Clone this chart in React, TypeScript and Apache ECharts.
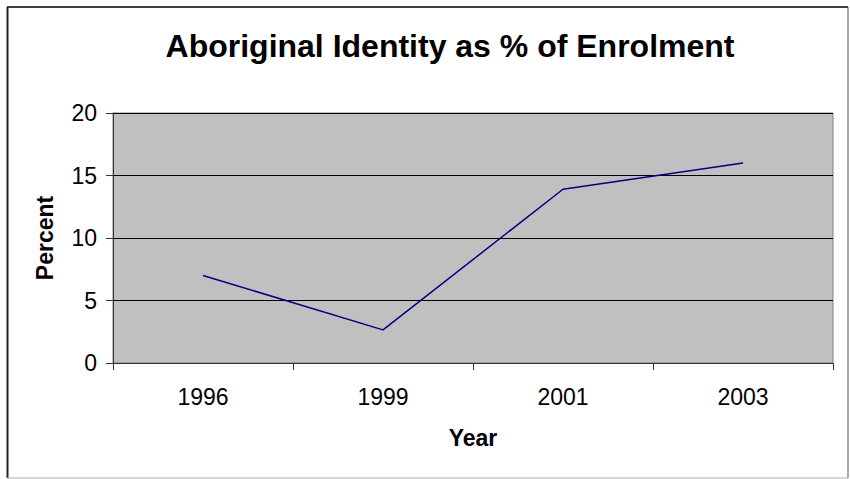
import React, { useEffect, useRef } from "react";
import * as echarts from "echarts";

const years = ["1996", "1999", "2001", "2003"];
const percentValues = [7, 2.65, 13.9, 16];
const yTicks = { min: 0, max: 20, interval: 5 };
const titleText = "Aboriginal Identity as % of Enrolment";
const xName = "Year";
const yName = "Percent";

const FONT = "'Liberation Sans', Arial, sans-serif";

export default function App() {
  const ref = useRef<HTMLDivElement>(null);
  useEffect(() => {
    if (!ref.current) return;
    const chart = echarts.init(ref.current, null, { renderer: "svg" });
    chart.setOption({
      animation: false,
      backgroundColor: "#ffffff",
      title: {
        text: titleText,
        left: 445,
        top: 25,
        textAlign: "center",
        textStyle: { fontFamily: FONT, fontSize: 32, fontWeight: "bold", color: "#000" },
      },
      graphic: [
        { type: "line", shape: { x1: 7, y1: 7, x2: 848, y2: 7 }, style: { stroke: "#000", lineWidth: 1.5 } },
        { type: "line", shape: { x1: 7.5, y1: 7, x2: 7.5, y2: 478 }, style: { stroke: "#222", lineWidth: 2 } },
        { type: "line", shape: { x1: 848, y1: 7, x2: 848, y2: 478 }, style: { stroke: "#555", lineWidth: 1 } },
        { type: "line", shape: { x1: 7, y1: 478, x2: 848, y2: 478 }, style: { stroke: "#aaa", lineWidth: 1 } },
      ],
      grid: {
        left: 113,
        right: 17,
        top: 113,
        bottom: 116,
        show: true,
        backgroundColor: "#C0C0C0",
        borderColor: "#808080",
        borderWidth: 1,
      },
      xAxis: {
        type: "category",
        data: years,
        boundaryGap: true,
        name: xName,
        nameLocation: "middle",
        nameGap: 63,
        nameTextStyle: { fontFamily: FONT, fontSize: 23, fontWeight: "bold", color: "#000" },
        axisLine: { lineStyle: { color: "#333", width: 1 } },
        axisTick: { show: true, length: 7, lineStyle: { color: "#333" } },
        axisLabel: { fontFamily: FONT, fontSize: 23, color: "#000", margin: 22 },
        splitLine: { show: false },
      },
      yAxis: {
        type: "value",
        min: yTicks.min,
        max: yTicks.max,
        interval: yTicks.interval,
        name: yName,
        nameLocation: "middle",
        nameRotate: 90,
        nameGap: 57,
        nameTextStyle: { fontFamily: FONT, fontSize: 23, fontWeight: "bold", color: "#000" },
        axisLine: { show: true, lineStyle: { color: "#333", width: 1 } },
        axisTick: { show: true, length: 7, lineStyle: { color: "#333" } },
        axisLabel: { fontFamily: FONT, fontSize: 23, color: "#000", margin: 16 },
        splitLine: { show: true, lineStyle: { color: "#000", width: 1 } },
      },
      series: [
        {
          type: "line",
          data: percentValues,
          symbol: "none",
          lineStyle: { color: "#000080", width: 1.5 },
          itemStyle: { color: "#000080" },
        },
      ],
    });
    return () => chart.dispose();
  }, []);
  return (
    <div
      ref={ref}
      style={{ position: "fixed", left: 0, top: 0, width: 850, height: 479 }}
    />
  );
}
